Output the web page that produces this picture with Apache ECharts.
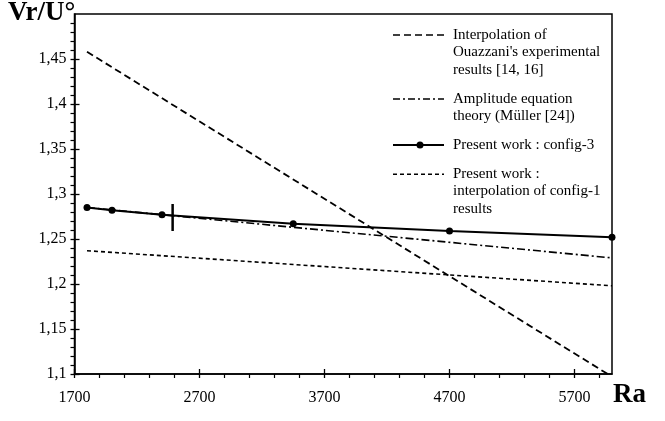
<!DOCTYPE html>
<html>
<head>
<meta charset="utf-8">
<script src="https://cdn.jsdelivr.net/npm/echarts@6/dist/echarts.min.js"></script>
<style>html,body{margin:0;padding:0;background:#fff;}#c{width:665px;height:421px;}</style>
</head>
<body>
<div id="c"></div>
<script>
// ---- data ----
const xMajorTicks = [1700, 2700, 3700, 4700, 5700];
const xMinorTicks = [1900, 2100, 2300, 2500, 2900, 3100, 3300, 3500, 3900, 4100, 4300, 4500, 4900, 5100, 5300, 5500, 5900];
const yMajorTicks = [1.1, 1.15, 1.2, 1.25, 1.3, 1.35, 1.4, 1.45];
const yMinorTicks = [1.11,1.12,1.13,1.14,1.16,1.17,1.18,1.19,1.21,1.22,1.23,1.24,1.26,1.27,1.28,1.29,1.31,1.32,1.33,1.34,1.36,1.37,1.38,1.39,1.41,1.42,1.43,1.44,1.46,1.47,1.48,1.49];

const ouazzani = [[1800, 1.458], [6000, 1.097]];
const amplitude = [[1800, 1.285], [6000, 1.229]];
const config3 = [[1800, 1.285], [2000, 1.282], [2400, 1.277], [3450, 1.267], [4700, 1.259], [6000, 1.252]];
const config1 = [[1800, 1.237], [6000, 1.198]];
const criticalMark = [[2485, 1.259], [2485, 1.289]];

const legendNames = [
  "Interpolation of\nOuazzani's experimental\nresults [14, 16]",
  "Amplitude equation\ntheory (Müller [24])",
  "Present work : config-3",
  "Present work :\ninterpolation of config-1\nresults"
];

const FONT = '"Liberation Serif", "Times New Roman", serif';
const chart = echarts.init(document.getElementById('c'), null, {renderer: 'canvas'});

const fmtY = v => String(v).replace('.', ',');
const fmtX = v => String(v);
const baseX = {type: 'value', min: 1700, max: 6000, position: 'bottom', splitLine: {show: false}};
const baseY = {type: 'value', min: 1.1, max: 1.5, position: 'left', splitLine: {show: false}};
const black = '#000';

const legendY = [35, 99, 145, 174.3];
const legendDash = [[7, 4], [7, 3, 2, 3], null, [4, 3]];
const graphics = [];
legendNames.forEach((name, i) => {
  graphics.push({
    type: 'line', shape: {x1: 393, y1: legendY[i], x2: 444, y2: legendY[i]},
    style: {stroke: black, lineWidth: i === 2 ? 2 : 1.6, lineDash: legendDash[i] || null}
  });
  if (i === 2) {
    graphics.push({type: 'circle', shape: {cx: 420, cy: legendY[i], r: 3.5}, style: {fill: black}});
  }
  graphics.push({
    type: 'text', x: 453, y: legendY[i] - 9,
    style: {text: name, font: '15px ' + FONT, fill: black, lineHeight: 17.5, verticalAlign: 'top'}
  });
});
graphics.push({type: 'text', x: 8, y: 27, style: {text: 'Vr/U°', font: 'bold 27px ' + FONT, fill: black, verticalAlign: 'bottom'}});
graphics.push({type: 'text', x: 613, y: 409, style: {text: 'Ra', font: 'bold 27px ' + FONT, fill: black, verticalAlign: 'bottom'}});

chart.setOption({
  animation: false,
  backgroundColor: '#fff',
  grid: {left: 74.5, right: 53, top: 14, bottom: 47, show: true, borderColor: black, borderWidth: 1.5, backgroundColor: 'transparent'},
  xAxis: [
    Object.assign({}, baseX, {
      axisLine: {show: true, onZero: false, lineStyle: {color: black, width: 1.5}},
      axisTick: {show: true, inside: false, length: 4, customValues: xMajorTicks, lineStyle: {color: black, width: 1.3}},
      axisLabel: {show: true, customValues: xMajorTicks, margin: 16, color: black, fontFamily: FONT, fontSize: 16, formatter: fmtX}
    }),
    Object.assign({}, baseX, {
      axisLine: {show: false, onZero: false},
      axisTick: {show: true, inside: true, length: 5, customValues: xMajorTicks, lineStyle: {color: black, width: 1.3}},
      axisLabel: {show: false}
    }),
    Object.assign({}, baseX, {
      axisLine: {show: false, onZero: false},
      axisTick: {show: true, inside: false, length: 4, customValues: xMinorTicks, lineStyle: {color: black, width: 1.2}},
      axisLabel: {show: false}
    })
  ],
  yAxis: [
    Object.assign({}, baseY, {
      axisLine: {show: true, onZero: false, lineStyle: {color: black, width: 1.5}},
      axisTick: {show: true, inside: false, length: 4, customValues: yMajorTicks, lineStyle: {color: black, width: 1.3}},
      axisLabel: {show: true, customValues: yMajorTicks, margin: 8, color: black, fontFamily: FONT, fontSize: 16, formatter: fmtY}
    }),
    Object.assign({}, baseY, {
      axisLine: {show: false, onZero: false},
      axisTick: {show: true, inside: true, length: 5, customValues: yMajorTicks, lineStyle: {color: black, width: 1.3}},
      axisLabel: {show: false}
    }),
    Object.assign({}, baseY, {
      axisLine: {show: false, onZero: false},
      axisTick: {show: true, inside: false, length: 4, customValues: yMinorTicks, lineStyle: {color: black, width: 1.2}},
      axisLabel: {show: false}
    })
  ],
  series: [
    {name: legendNames[0], type: 'line', data: ouazzani, symbol: 'none', lineStyle: {color: black, width: 1.8, type: [7, 4]}},
    {name: legendNames[1], type: 'line', data: amplitude, symbol: 'none', lineStyle: {color: black, width: 1.6, type: [8, 3, 2, 3]}},
    {name: legendNames[2], type: 'line', data: config3, symbol: 'circle', symbolSize: 7, itemStyle: {color: black}, lineStyle: {color: black, width: 2}},
    {name: legendNames[3], type: 'line', data: config1, symbol: 'none', lineStyle: {color: black, width: 1.6, type: [4, 3]}},
    {name: 'critical Ra', type: 'line', data: criticalMark, symbol: 'none', lineStyle: {color: black, width: 2.5}}
  ],
  graphic: graphics
});
</script>
</body>
</html>
